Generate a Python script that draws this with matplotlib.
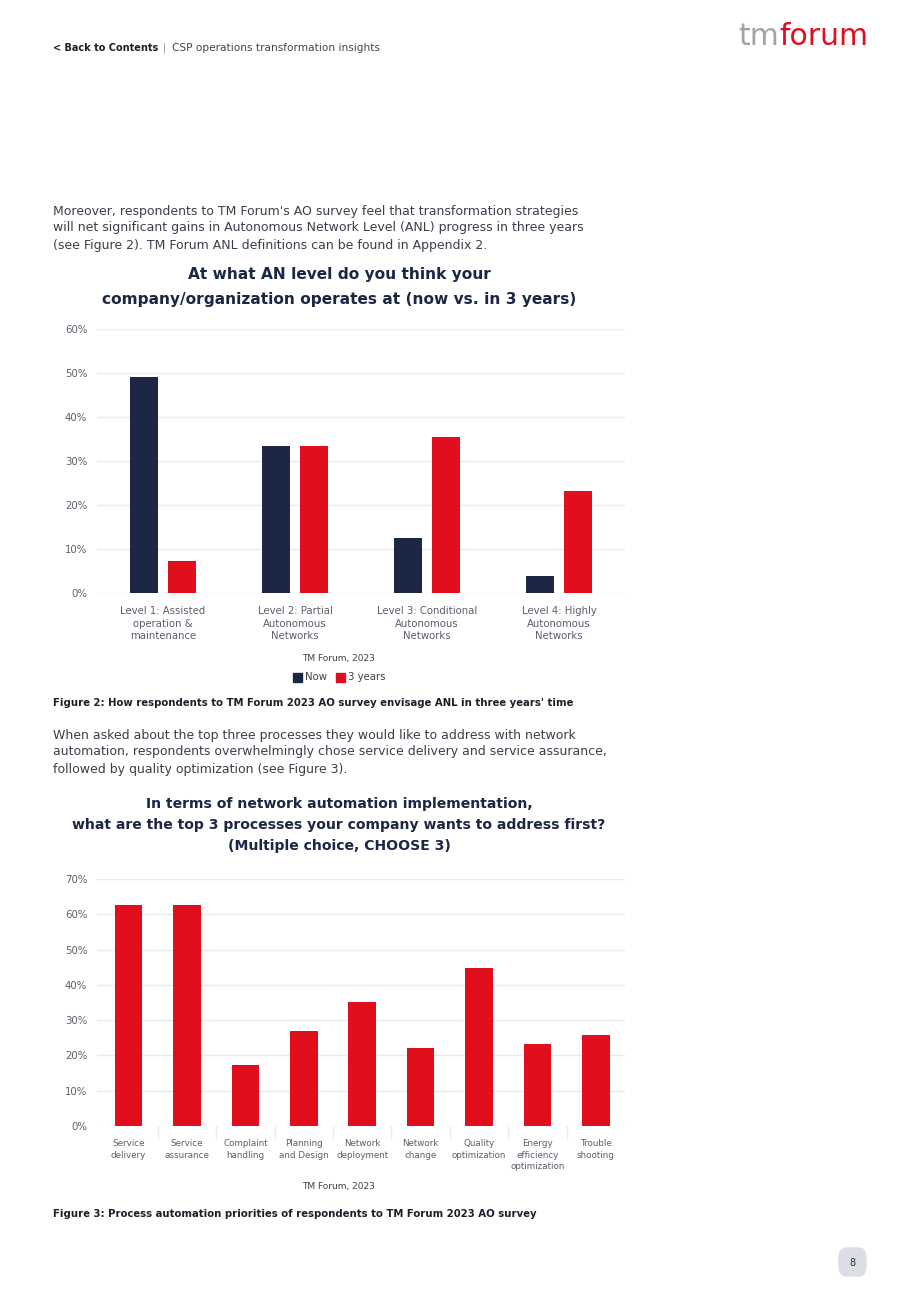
import numpy as np
import matplotlib.pyplot as plt
from matplotlib.patches import FancyBboxPatch, Rectangle

# chart 1 data
levels = ["Level 1: Assisted\noperation &\nmaintenance",
          "Level 2: Partial\nAutonomous\nNetworks",
          "Level 3: Conditional\nAutonomous\nNetworks",
          "Level 4: Highly\nAutonomous\nNetworks"]
now = [49.2, 33.3, 12.4, 3.8]
three_years = [7.2, 33.3, 35.5, 23.1]

# chart 2 data
processes = ["Service\ndelivery", "Service\nassurance", "Complaint\nhandling",
             "Planning\nand Design", "Network\ndeployment", "Network\nchange",
             "Quality\noptimization", "Energy\nefficiency\noptimization", "Trouble\nshooting"]
shares = [62.5, 62.6, 17.2, 27.0, 35.1, 22.0, 44.9, 23.3, 25.7]

NAVY = "#1b2744"
RED = "#e10e1e"
GRID = "#e9e9ee"
TXT = "#3b3f4a"
TICK = "#5a5f6b"

plt.rcParams['font.family'] = ['DejaVu Sans']

W, H = 920, 1302
fig = plt.figure(figsize=(W / 100, H / 100), dpi=100)


def fy(y):
    return 1 - y / H


def fx(x):
    return x / W


# header
fig.text(fx(53), fy(48), "< Back to Contents", fontsize=7, fontweight="bold",
         color="#1b1f2a", va="center")
fig.text(fx(163), fy(48), "|", fontsize=7, color="#888", va="center")
fig.text(fx(172), fy(48), "CSP operations transformation insights", fontsize=7.6,
         color="#444", va="center")
fig.text(fx(779), fy(45), "tm", fontsize=21.5, color="#a3a3a3", ha="right",
         va="baseline")
fig.text(fx(779), fy(45), "forum", fontsize=21.5, color=RED, ha="left",
         va="baseline")

para1 = ["Moreover, respondents to TM Forum's AO survey feel that transformation strategies",
         "will net significant gains in Autonomous Network Level (ANL) progress in three years",
         "(see Figure 2). TM Forum ANL definitions can be found in Appendix 2."]
for i, line in enumerate(para1):
    fig.text(fx(53), fy(211 + 17 * i), line, fontsize=9, color=TXT, va="center")

fig.text(fx(339), fy(287), "At what AN level do you think your\ncompany/organization operates at (now vs. in 3 years)",
         fontsize=11.1, fontweight="bold", color=NAVY, ha="center", va="center",
         linespacing=1.8)

# chart 1
ax1 = fig.add_axes([fx(97), fy(593), fx(625) - fx(97), fy(329) - fy(593)])
x = np.arange(len(levels))
bw = 0.21
ax1.bar(x - 0.143, now, bw, color=NAVY, zorder=3)
ax1.bar(x + 0.143, three_years, bw, color=RED, zorder=3)
ax1.set_xlim(-0.5, len(levels) - 0.5)
ax1.set_ylim(0, 60)
ax1.set_yticks(range(0, 61, 10))
ax1.set_yticklabels([f"{v}%" for v in range(0, 61, 10)])
ax1.set_xticks(x)
ax1.set_xticklabels(levels, fontsize=7.3, color=TICK, linespacing=1.3)
ax1.grid(axis="y", color=GRID, linewidth=1, zorder=0)
ax1.tick_params(axis="y", length=0, pad=7, labelsize=7.3, labelcolor=TICK)
ax1.tick_params(axis="x", length=0, pad=9.5)
for s in ax1.spines.values():
    s.set_visible(False)

fig.text(fx(339), fy(658), "TM Forum, 2023", fontsize=6.5, color=TXT, ha="center", va="center")
fig.patches.append(Rectangle((fx(293), fy(682)), fx(9), 9 / H, color=NAVY,
                             transform=fig.transFigure, figure=fig))
fig.text(fx(305), fy(677), "Now", fontsize=7.3, color=TXT, va="center")
fig.patches.append(Rectangle((fx(336), fy(682)), fx(9), 9 / H, color=RED,
                             transform=fig.transFigure, figure=fig))
fig.text(fx(348), fy(677), "3 years", fontsize=7.3, color=TXT, va="center")

fig.text(fx(53), fy(703), "Figure 2: How respondents to TM Forum 2023 AO survey envisage ANL in three years' time",
         fontsize=7.3, fontweight="bold", color="#1b1f2a", va="center")

para2 = ["When asked about the top three processes they would like to address with network",
         "automation, respondents overwhelmingly chose service delivery and service assurance,",
         "followed by quality optimization (see Figure 3)."]
for i, line in enumerate(para2):
    fig.text(fx(53), fy(735 + 17 * i), line, fontsize=9, color=TXT, va="center")

fig.text(fx(339), fy(825), "In terms of network automation implementation,\n"
         "what are the top 3 processes your company wants to address first?\n"
         "(Multiple choice, CHOOSE 3)",
         fontsize=10.1, fontweight="bold", color=NAVY, ha="center", va="center",
         linespacing=1.62)

# chart 2
ax2 = fig.add_axes([fx(97), fy(1126), fx(625) - fx(97), fy(879) - fy(1126)])
x2 = np.arange(len(processes))
ax2.bar(x2, shares, 0.474, color=RED, zorder=3)
ax2.set_xlim(-0.54, len(processes) - 0.5)
ax2.set_ylim(0, 70)
ax2.set_yticks(range(0, 71, 10))
ax2.set_yticklabels([f"{v}%" for v in range(0, 71, 10)])
ax2.set_xticks(x2)
ax2.set_xticklabels(processes, fontsize=6.3, color=TICK, linespacing=1.35)
ax2.set_xticks(np.arange(0.5, len(processes) - 1, 1), minor=True)
ax2.grid(axis="y", color=GRID, linewidth=1, zorder=0)
ax2.tick_params(axis="y", length=0, pad=7, labelsize=7.3, labelcolor=TICK)
ax2.tick_params(axis="x", which="major", length=0, pad=9.5)
ax2.tick_params(axis="x", which="minor", length=9, color=GRID, width=1)
for s in ax2.spines.values():
    s.set_visible(False)

fig.text(fx(339), fy(1187), "TM Forum, 2023", fontsize=6.5, color=TXT, ha="center", va="center")
fig.text(fx(53), fy(1214), "Figure 3: Process automation priorities of respondents to TM Forum 2023 AO survey",
         fontsize=7.3, fontweight="bold", color="#1b1f2a", va="center")

# page number
fig.patches.append(FancyBboxPatch((fx(839), fy(1276)), fx(27), 28 / H,
                                  boxstyle="round,pad=0,rounding_size=0.008",
                                  color="#dcdee5", transform=fig.transFigure, figure=fig))
fig.text(fx(852), fy(1263), "8", fontsize=7, color="#333", ha="center", va="center")

fig.savefig("out.png", dpi=100, facecolor="white")
